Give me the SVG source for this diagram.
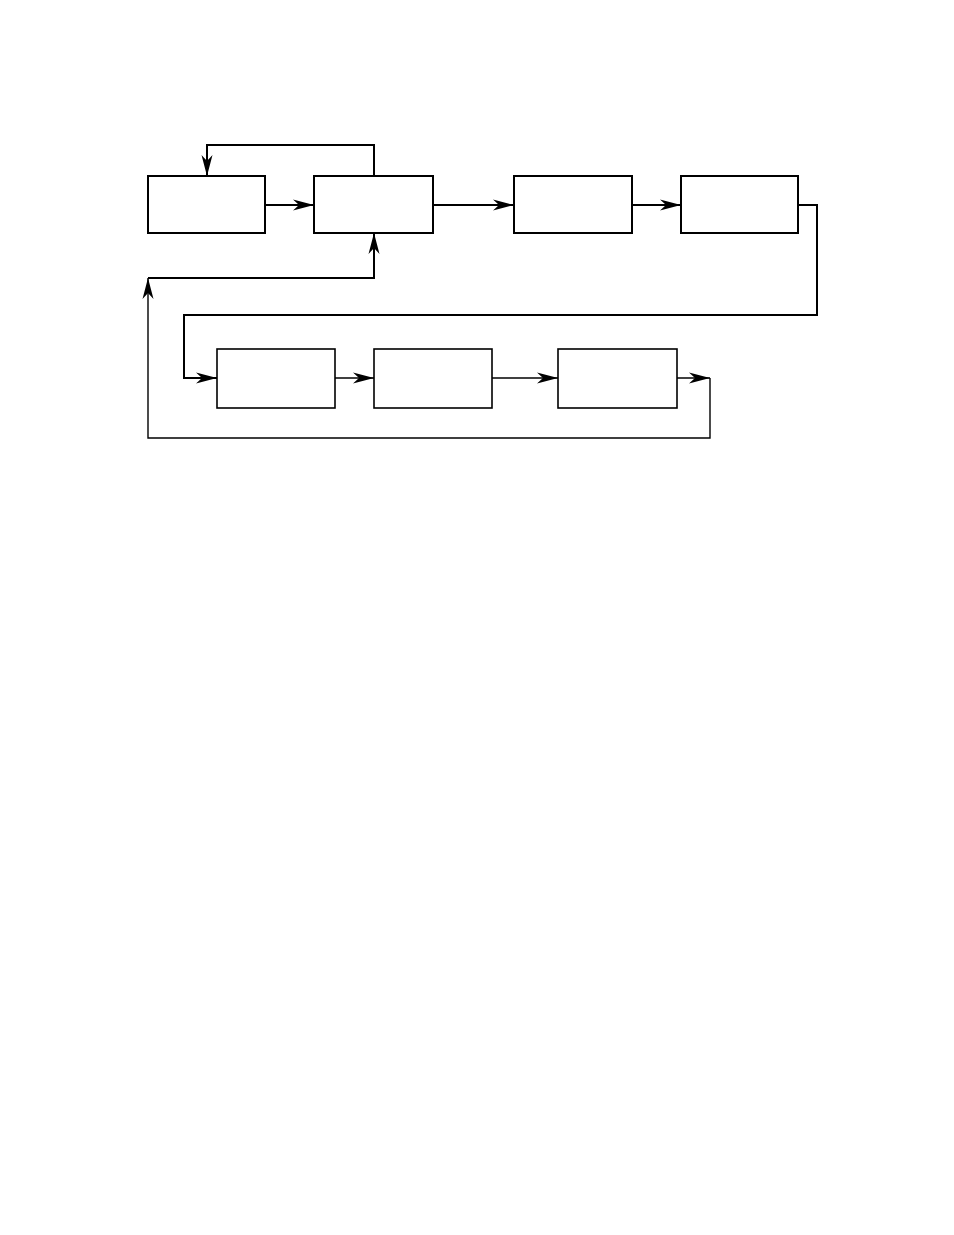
<svg xmlns="http://www.w3.org/2000/svg" width="954" height="1235" viewBox="0 0 954 1235">
<style>
.box{fill:#fff;stroke:#000;stroke-width:2}
.box2{fill:#fff;stroke:#000;stroke-width:1.6}
.c{fill:none;stroke:#000;stroke-width:2;stroke-linejoin:miter}
.t{fill:none;stroke:#000;stroke-width:1.4}
</style>
<defs>
<marker id="a" markerUnits="userSpaceOnUse" markerWidth="22" markerHeight="12" viewBox="0 0 22 12" refX="21" refY="6" orient="auto">
<path d="M0,0.5 L21,6 L0,11.5 L6,6 Z" fill="#000"/>
</marker>
</defs>
<rect width="954" height="1235" fill="#fff"/>
<g id="n1"><rect class="box" x="148" y="176" width="117" height="57"/></g>
<g id="n2"><rect class="box" x="314" y="176" width="119" height="57"/></g>
<g id="n3"><rect class="box" x="514" y="176" width="118" height="57"/></g>
<g id="n4"><rect class="box" x="681" y="176" width="117" height="57"/></g>
<g id="n5"><rect class="box2" x="217" y="349" width="118" height="59"/></g>
<g id="n6"><rect class="box2" x="374" y="349" width="118" height="59"/></g>
<g id="n7"><rect class="box2" x="558" y="349" width="119" height="59"/></g>
<g id="connectors">
<path class="c" d="M374,176 V145 H207 V176" marker-end="url(#a)"/>
<path class="c" d="M265,205 H314" marker-end="url(#a)"/>
<path class="c" d="M433,205 H514" marker-end="url(#a)"/>
<path class="c" d="M632,205 H681" marker-end="url(#a)"/>
<path class="c" d="M798,205 H817 V315 H184 V378 H217" marker-end="url(#a)"/>
<path class="t" d="M335,378 H374" marker-end="url(#a)"/>
<path class="t" d="M492,378 H558" marker-end="url(#a)"/>
<path class="t" d="M677,378 H710" marker-end="url(#a)"/>
<path class="t" d="M710,378 V438 H148 V278" marker-end="url(#a)"/>
<path class="c" d="M148,278 H374 V233" marker-end="url(#a)"/>
</g>
</svg>
